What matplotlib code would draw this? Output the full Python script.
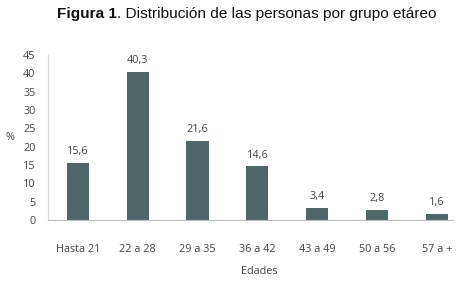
import matplotlib.pyplot as plt

grupos = ['Hasta 21', '22 a 28', '29 a 35', '36 a 42', '43 a 49', '50 a 56', '57 a +']
porcentajes = [15.6, 40.3, 21.6, 14.6, 3.4, 2.8, 1.6]
etiquetas = ['15,6', '40,3', '21,6', '14,6', '3,4', '2,8', '1,6']

plt.rcParams['font.family'] = ['Open Sans', 'DejaVu Sans']

fig = plt.figure(figsize=(4.73, 2.82), dpi=100)
ax = fig.add_axes([48/473, 62/282, 405/473, 165/282])

x = range(len(grupos))
ax.bar(x, porcentajes, width=0.37, color='#4f6769')
for i, (v, t) in enumerate(zip(porcentajes, etiquetas)):
    ax.text(i, v + 1.6, t, ha='center', va='bottom', fontsize=7.8, color='#444444')

ax.set_xlim(-0.5, 6.27)
ax.set_ylim(0, 45)
ax.set_yticks(range(0, 46, 5))
ax.set_xticks(list(x))
ax.set_xticklabels(grupos)
ax.tick_params(axis='both', length=0, labelsize=7.8, labelcolor='#444444')
ax.tick_params(axis='x', pad=17)
ax.tick_params(axis='y', pad=9)

for s in ['top', 'right']:
    ax.spines[s].set_visible(False)
ax.spines['left'].set_color('#d9d9d9')
ax.spines['bottom'].set_color('#bfbfbf')

fig.text(10/473, 1 - 138/282, '%', fontsize=7.8, color='#444444', ha='center', va='center')
fig.text(259/473, 1 - 272/282, 'Edades', fontsize=7.8, color='#444444', ha='center', va='center')

# titulo: parte en negrita + resto
t1 = fig.text(57/473, 1 - 14/282, 'Figura 1', fontsize=11.1, fontweight='bold',
              family='Liberation Sans', color='#111111', ha='left', va='center')
fig.canvas.draw()
ext = t1.get_window_extent()
fig.text(ext.x1 / fig.bbox.width, 1 - 14/282, '. Distribución de las personas por grupo etáreo',
         fontsize=11.1, family='Liberation Sans', color='#111111', ha='left', va='center')

plt.savefig('out.png', dpi=100)
